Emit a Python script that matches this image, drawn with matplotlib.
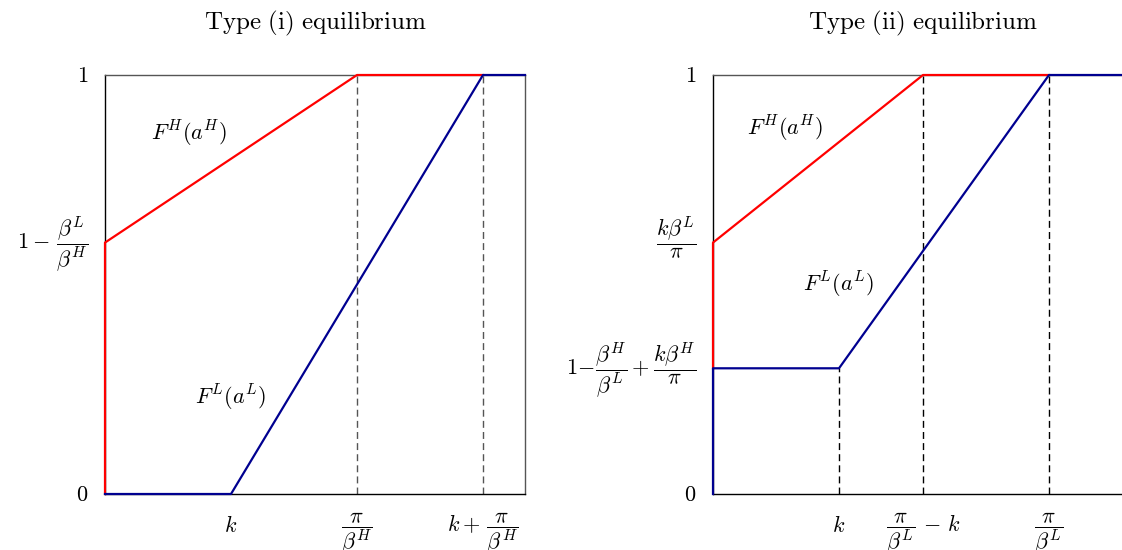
import matplotlib
matplotlib.use('Agg')
import matplotlib.pyplot as plt
from matplotlib.transforms import ScaledTranslation

plt.rcParams['mathtext.fontset'] = 'cm'

# Type (i) equilibrium: piecewise-linear distributions
redX1 = [0, 0, 0.6, 0.9]
redY1 = [0, 0.6, 1, 1]
blueX1 = [0, 0.3, 0.9, 1.0]
blueY1 = [0, 0, 1, 1]
dashX1 = [0.6, 0.9]
dashTop1 = [1, 1]
xticks1 = [0.3, 0.6, 0.9]
xlabels1 = [r'$k$', r'$\dfrac{\pi}{\beta^H}$', r'$k+\,\dfrac{\pi}{\beta^H}$']
yticks1 = [0, 0.6, 1]
ylabels1 = [r'$0$', r'$1-\,\dfrac{\beta^L}{\beta^H}$', r'$1$']

# Type (ii) equilibrium
redX2 = [0, 0, 0.5, 0.8]
redY2 = [0.3, 0.6, 1, 1]
blueX2 = [0, 0, 0.3, 0.8, 1.0]
blueY2 = [0, 0.3, 0.3, 1, 1]
dashX2 = [0.3, 0.5, 0.8]
dashTop2 = [0.3, 1, 1]
xticks2 = [0.3, 0.5, 0.8]
xlabels2 = [r'$k$', r'$\dfrac{\pi}{\beta^L}\,-\,k$', r'$\dfrac{\pi}{\beta^L}$']
yticks2 = [0, 0.3, 0.6, 1]
ylabels2 = [r'$0$', r'$1\!-\!\dfrac{\beta^H}{\beta^L}+\dfrac{k\beta^H}{\pi}$',
            r'$\dfrac{k\beta^L}{\pi}$', r'$1$']

fig = plt.figure(figsize=(11.22, 5.5), dpi=100)
ax1 = fig.add_axes([105/1122, 56/550, 420/1122, 419/550])
ax2 = fig.add_axes([713/1122, 56/550, 420/1122, 419/550])

# labels sit on their baseline; push y labels down so the fraction bar / digit centre meets the tick
yshift = ScaledTranslation(0, -4.8/72, fig.dpi_scale_trans)


def draw_panel(ax, redX, redY, blueX, blueY, dashX, dashTop, dashColor,
               xticks, xlabels, yticks, ylabels, title):
    ax.set_xlim(0, 1)
    ax.set_ylim(0, 1)
    for xv, top in zip(dashX, dashTop):
        ax.plot([xv, xv], [0, top], color=dashColor, lw=1.0,
                dashes=(5, 3), zorder=1)
    ax.plot(redX, redY, color='#ff0000', lw=1.6, clip_on=False, zorder=3)
    ax.plot(blueX, blueY, color='#000090', lw=1.6, clip_on=False, zorder=4)
    ax.spines['left'].set_color('black')
    ax.spines['bottom'].set_color('black')
    ax.spines['top'].set_color('#555555')
    ax.spines['right'].set_color('#555555')
    for s in ax.spines.values():
        s.set_linewidth(1.0)
    ax.set_xticks(xticks)
    ax.set_xticklabels(xlabels, va='baseline', fontsize=16)
    ax.set_yticks(yticks)
    ax.set_yticklabels(ylabels, va='baseline', fontsize=16)
    ax.tick_params(axis='x', length=0, pad=27)
    ax.tick_params(axis='y', length=0, pad=12)
    for lbl in ax.get_yticklabels():
        lbl.set_transform(lbl.get_transform() + yshift)
    ax.set_title(title, fontsize=18, pad=33)


draw_panel(ax1, redX1, redY1, blueX1, blueY1, dashX1, dashTop1, '#555555',
           xticks1, xlabels1, yticks1, ylabels1,
           r'$\mathrm{Type\ (i)\ equilibrium}$')
draw_panel(ax2, redX2, redY2, blueX2, blueY2, dashX2, dashTop2, 'black',
           xticks2, xlabels2, yticks2, ylabels2,
           r'$\mathrm{Type\ (ii)\ equilibrium}$')

ax1.text(0.2, 0.86, r'$F^H(a^H)$', fontsize=16, ha='center', va='center')
ax1.text(0.3, 0.23, r'$F^L(a^L)$', fontsize=16, ha='center', va='center')
ax2.text(0.17, 0.87, r'$F^H(a^H)$', fontsize=16, ha='center', va='center')
ax2.text(0.3, 0.5, r'$F^L(a^L)$', fontsize=16, ha='center', va='center')

fig.savefig('out.png', dpi=100)
